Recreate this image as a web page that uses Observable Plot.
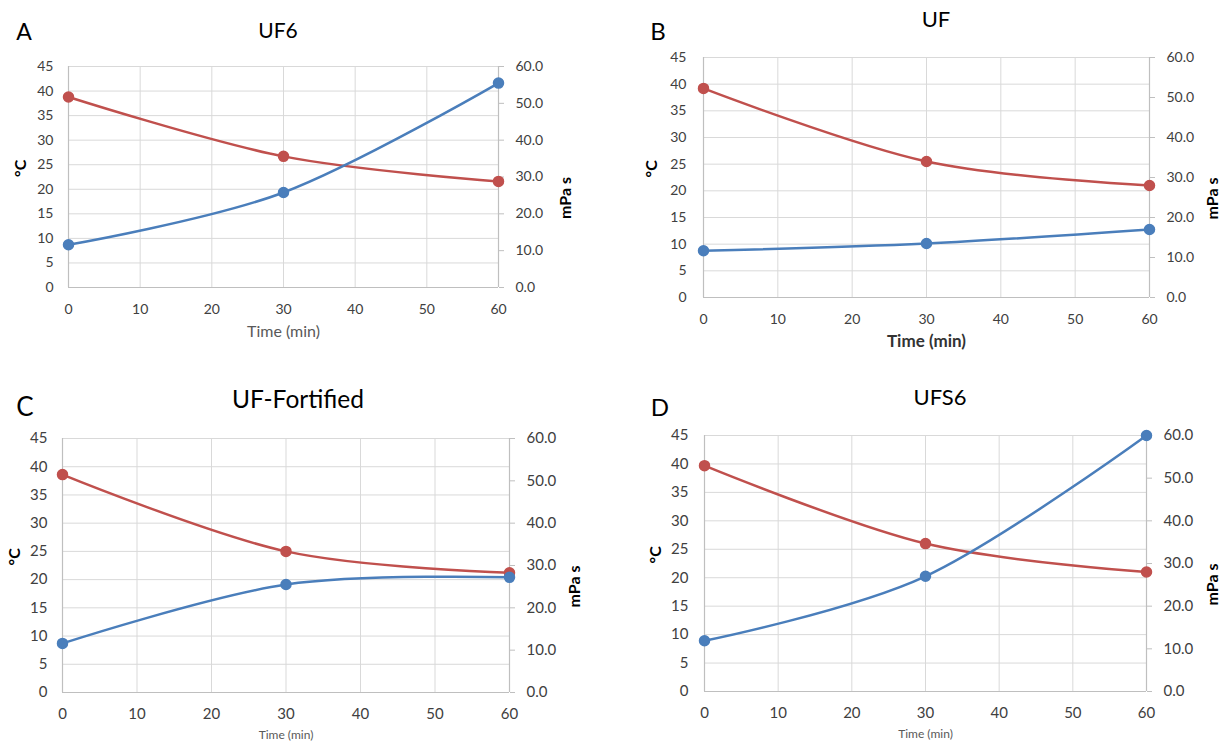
<!DOCTYPE html>
<html><head><meta charset="utf-8">
<script src="https://cdn.jsdelivr.net/npm/d3@7"></script>
<script src="https://cdn.jsdelivr.net/npm/@observablehq/plot@0.6"></script>
<style>
body{margin:0;background:#fff;font-family:Lato,"Open Sans",sans-serif;}
#wrap{position:relative;width:1220px;height:746px;overflow:hidden;background:#fff;}
.pn{position:absolute;}
.txt{position:absolute;transform:translate(-50%,-50%);white-space:nowrap;color:#000;line-height:1;}
</style></head><body><div id="wrap"></div>
<script>
// ---- data ----
const times = [0, 30, 60];
const panelLetters = ["A", "B", "C", "D"];
const panelTitles = ["UF6", "UF", "UF-Fortified", "UFS6"];
// temperature (°C, left axis, red)
const tempA = [38.8, 26.7, 21.6];
const tempB = [39.2, 25.5, 21.0];
const tempC = [38.6, 25.0, 21.2];
const tempD = [39.7, 26.0, 21.0];
// viscosity (mPa s, right axis, blue)
const viscA = [11.6, 25.8, 55.5];
const viscB = [11.7, 13.5, 17.0];
const viscC = [11.6, 25.5, 27.2];
const viscD = [11.9, 27.0, 60.0];
// ticks
const xTicks = [0, 10, 20, 30, 40, 50, 60];
const leftTicks = [0, 5, 10, 15, 20, 25, 30, 35, 40, 45];
const rightTicks = [0, 10, 20, 30, 40, 50, 60];
const leftLabel = "°C";
const rightLabel = "mPa s";
const xLabel = "Time (min)";

const RED = "#c0504d", BLUE = "#4a7ebb";
const temps = [tempA, tempB, tempC, tempD];
const viscs = [viscA, viscB, viscC, viscD];

// layout per panel
const layout = [
  {left:0,   top:40,  w:600, h:320, mL:68, mR:102, mT:26, mB:73, fs:14, xPad:17, yPad:15, rPad:12,
   cDx:-48, mDx:67, tDy:49, tFs:16, tW:"normal", tCol:"#595959",
   title:[278,29,21], letter:[24,31,23]},
  {left:610, top:30,  w:610, h:330, mL:93, mR:71,  mT:27, mB:63, fs:14, xPad:17, yPad:17, rPad:12,
   cDx:-52, mDx:63, tDy:49, tFs:17, tW:"bold", tCol:"#333",
   title:[936,18.5,22], letter:[658,31,24]},
  {left:0,   top:420, w:600, h:326, mL:62, mR:91,  mT:18, mB:54, fs:15, xPad:16, yPad:15, rPad:12,
   cDx:-48, mDx:65, tDy:46, tFs:12, tW:"normal", tCol:"#595959",
   title:[298,399,24.5], letter:[25,406,26]},
  {left:610, top:420, w:610, h:326, mL:94, mR:74,  mT:15, mB:55, fs:15, xPad:16, yPad:16, rPad:12,
   cDx:-49, mDx:66, tDy:46, tFs:12, tW:"normal", tCol:"#595959",
   title:[940,397,22], letter:[660,407,24]}
];

const wrap = document.getElementById("wrap");

layout.forEach((L, p) => {
  const rows = times.map((t, i) => ({t, temp: temps[p][i], visc: viscs[p][i]}));
  const yV = d => d.visc * 45 / 60;
  const chart = Plot.plot({
    width: L.w, height: L.h,
    marginLeft: L.mL, marginRight: L.mR, marginTop: L.mT, marginBottom: L.mB,
    style: {background: "transparent", overflow: "visible", fontFamily: "Lato, 'Open Sans', sans-serif"},
    x: {domain: [0, 60]},
    y: {domain: [0, 45]},
    marks: [
      Plot.gridX(xTicks, {stroke: "#d9d9d9", strokeOpacity: 1, strokeWidth: 1}),
      Plot.gridY(leftTicks, {stroke: "#d9d9d9", strokeOpacity: 1, strokeWidth: 1}),
      Plot.ruleX([0, 60], {stroke: "#bfbfbf", strokeWidth: 1.2}),
      Plot.ruleY([0], {stroke: "#bfbfbf", strokeWidth: 1.2}),
      Plot.axisX(xTicks, {tickSize: 0, tickPadding: L.xPad, label: null, fontSize: L.fs, fill: "#404040"}),
      Plot.axisY(leftTicks, {anchor: "left", tickSize: 0, tickPadding: L.yPad, label: null, fontSize: L.fs, fill: "#404040"}),
      Plot.axisY(rightTicks, {anchor: "right", y: d => d * 45 / 60, tickSize: 5, tickPadding: L.rPad,
        stroke: "#bfbfbf", fill: "#404040", tickFormat: d => d.toFixed(1), label: null, fontSize: L.fs}),
      Plot.text([leftLabel], {frameAnchor: "left", dx: L.cDx, rotate: -90, fontSize: 16, fontWeight: "bold", fill: "#000"}),
      Plot.text([rightLabel], {frameAnchor: "right", dx: L.mDx, rotate: -90, fontSize: 16, fontWeight: "bold", fill: "#000"}),
      Plot.text([xLabel], {frameAnchor: "bottom", dy: L.tDy, fontSize: L.tFs, fontWeight: L.tW, fill: L.tCol}),
      Plot.line(rows, {x: "t", y: "temp", stroke: RED, strokeWidth: 2.5, curve: "cardinal"}),
      Plot.dot(rows, {x: "t", y: "temp", r: 5, fill: RED, stroke: RED}),
      Plot.line(rows, {x: "t", y: yV, stroke: BLUE, strokeWidth: 2.5, curve: "cardinal"}),
      Plot.dot(rows, {x: "t", y: yV, r: 5, fill: BLUE, stroke: BLUE})
    ]
  });
  const div = document.createElement("div");
  div.className = "pn";
  div.style.left = L.left + "px";
  div.style.top = L.top + "px";
  div.appendChild(chart);
  wrap.appendChild(div);

  const t = document.createElement("div");
  t.className = "txt";
  t.textContent = panelTitles[p];
  t.style.left = L.title[0] + "px"; t.style.top = L.title[1] + "px"; t.style.fontSize = L.title[2] + "px";
  wrap.appendChild(t);
  const l = document.createElement("div");
  l.className = "txt";
  l.textContent = panelLetters[p];
  l.style.left = L.letter[0] + "px"; l.style.top = L.letter[1] + "px"; l.style.fontSize = L.letter[2] + "px";
  wrap.appendChild(l);
});
</script></body></html>
